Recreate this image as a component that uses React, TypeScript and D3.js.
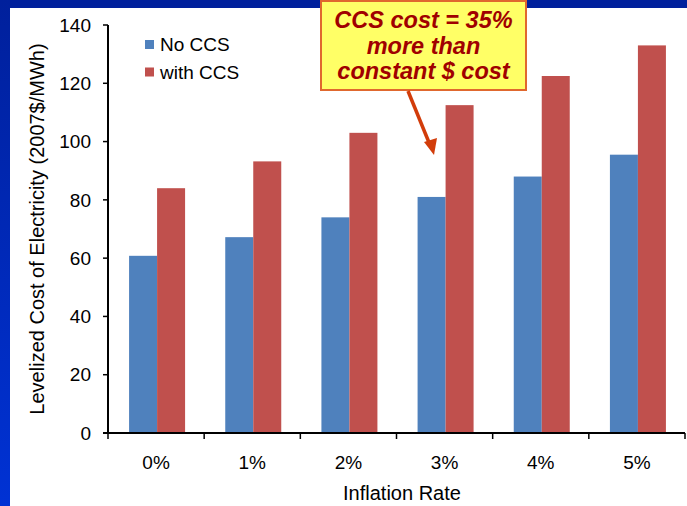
import React from "react";
import * as d3 from "d3";

const categories = ["0%", "1%", "2%", "3%", "4%", "5%"];
const noCCS = [60.8, 67.2, 74, 81, 88, 95.5];
const withCCS = [84, 93.2, 103, 112.5, 122.5, 133];
const yTicks = [0, 20, 40, 60, 80, 100, 120, 140];
const seriesNames = ["No CCS", "with CCS"];
const calloutLines = ["CCS cost = 35%", "more than", "constant $ cost"];

const W = 687;
const H = 506;

export default function App() {
  const x0 = 108, x1 = 685, yTop = 25, yBot = 433;
  const x = d3.scaleBand<string>().domain(categories).range([x0, x1]).paddingInner(0).paddingOuter(0);
  const y = d3.scaleLinear().domain([0, 140]).range([yBot, yTop]);
  const barW = 28;
  const font = "Arial, 'Liberation Sans', sans-serif";
  const colors = ["#4F81BD", "#C0504D"];
  return (
    <div style={{ position: "absolute", left: 0, top: 0 }}>
      <svg width={W} height={H} style={{ display: "block" }} fontFamily={font}>
        <defs>
          <linearGradient id="lb" x1="0" y1="0" x2="0" y2="1">
            <stop offset="0" stopColor="#00209C" />
            <stop offset="1" stopColor="#0032D4" />
          </linearGradient>
        </defs>
        <rect x={0} y={0} width={W} height={H} fill="#fff" />
        <rect x={0} y={0} width={W} height={8} fill="#00209C" />
        <rect x={0} y={0} width={10} height={H} fill="url(#lb)" />
        {/* bars */}
        {categories.map((c, i) => {
          const cx = (x(c) as number) + x.bandwidth() / 2 + 1;
          return (
            <g key={c}>
              <rect x={cx - barW} y={y(noCCS[i])} width={barW} height={yBot - y(noCCS[i])} fill={colors[0]} />
              <rect x={cx} y={y(withCCS[i])} width={barW} height={yBot - y(withCCS[i])} fill={colors[1]} />
            </g>
          );
        })}
        {/* y axis */}
        <line x1={x0} x2={x0} y1={yTop} y2={yBot} stroke="#000" strokeWidth={2} />
        {yTicks.map((t) => (
          <g key={t}>
            <line x1={x0 - 5} x2={x0} y1={y(t)} y2={y(t)} stroke="#000" strokeWidth={1.5} />
            <text x={91} y={y(t)} dy="0.35em" textAnchor="end" fontSize={19} fill="#000">{t}</text>
          </g>
        ))}
        {/* x axis */}
        <line x1={x0 - 5} x2={x1} y1={yBot} y2={yBot} stroke="#000" strokeWidth={2} />
        {categories.map((c) => (
          <line key={"t" + c} x1={(x(c) as number) + x.bandwidth()} x2={(x(c) as number) + x.bandwidth()} y1={yBot} y2={yBot + 6} stroke="#000" strokeWidth={1.5} />
        ))}
        <line x1={x0} x2={x0} y1={yBot} y2={yBot + 6} stroke="#000" strokeWidth={1.5} />
        {categories.map((c) => (
          <text key={"l" + c} x={(x(c) as number) + x.bandwidth() / 2} y={469} textAnchor="middle" fontSize={19} fill="#000">{c}</text>
        ))}
        <text x={402} y={500} textAnchor="middle" fontSize={20} fill="#000">Inflation Rate</text>
        <text transform={`translate(44,${(yTop + yBot) / 2}) rotate(-90)`} textAnchor="middle" fontSize={20} fill="#000">Levelized Cost of Electricity (2007$/MWh)</text>
        {/* legend */}
        {seriesNames.map((s, i) => (
          <g key={s}>
            <rect x={145} y={40 + i * 27.5} width={9} height={9} fill={colors[i]} />
            <text x={160} y={51 + i * 28} fontSize={19} fill="#000">{s}</text>
          </g>
        ))}
        {/* callout */}
        <rect x={321} y={1} width={205} height={89} fill="#FFFF66" stroke="#E0682E" strokeWidth={2} />
        {calloutLines.map((l, i) => (
          <text key={l} x={423.5} y={28 + i * 25.7} textAnchor="middle" fontSize={23.5} fontWeight="bold" fontStyle="italic" fill="#A00000">{l}</text>
        ))}
        <line x1={408} y1={91} x2={430} y2={145} stroke="#D23C0A" strokeWidth={3.5} />
        <path d="M 434 155 L 424 142 L 437 138 Z" fill="#D23C0A" />
      </svg>
    </div>
  );
}
